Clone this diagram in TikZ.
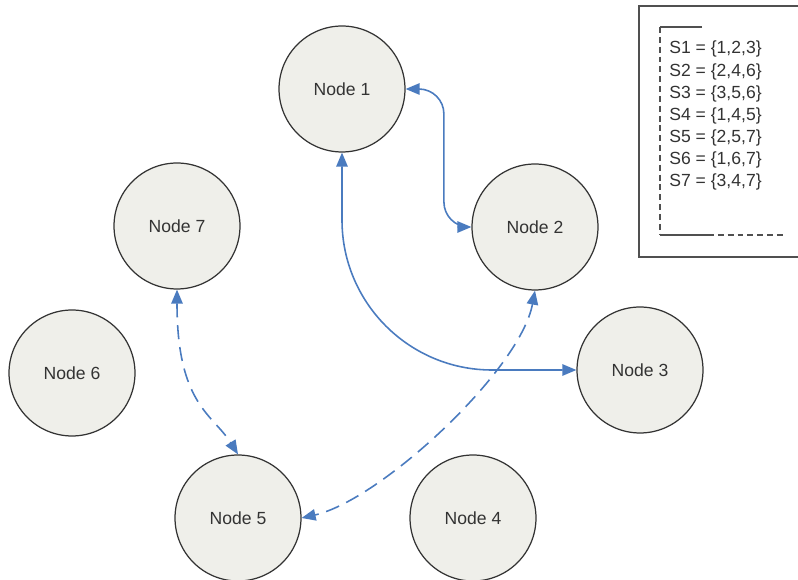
\documentclass[tikz,border=0pt]{standalone}
\usepackage{fontspec}
\setmainfont{Liberation Sans}
\usetikzlibrary{arrows.meta}
\definecolor{linkblue}{HTML}{4A7BBF}
\definecolor{nodefill}{HTML}{EFEFEA}
\definecolor{boxgray}{HTML}{505050}

\begin{document}
\begin{tikzpicture}[x=0.02cm,y=-0.02cm]
\tikzstyle{every node}=[font=\fontsize{10}{12}\selectfont,text=black!80]
\tikzstyle{setnode}=[draw=black!80,line width=0.7pt,fill=nodefill,shape=circle,minimum size=2.52cm,inner sep=0pt]
\tikzstyle{link}=[color=linkblue,line width=0.9pt,{Triangle[length=8pt,width=6.5pt]}-{Triangle[length=8pt,width=6.5pt]}]
\tikzstyle{dlink}=[link,dash pattern=on 8pt off 4.5pt]
\tikzstyle{legline}=[boxgray,line width=1.1pt]
\useasboundingbox (0,0) rectangle (798,580);

% the seven nodes
\node[setnode] (n1) at (342,89) {Node 1};
\node[setnode] (n2) at (535,227) {Node 2};
\node[setnode] (n3) at (640,370) {Node 3};
\node[setnode] (n4) at (473,518) {Node 4};
\node[setnode] (n5) at (238,518) {Node 5};
\node[setnode] (n6) at (72,373) {Node 6};
\node[setnode] (n7) at (177,226) {Node 7};

% links
\draw[link,rounded corners=0.5cm] (n1.east) -| ([xshift=-0.55cm]n2.west) -- (n2.west);
\draw[link,rounded corners=3cm] (n1.south) |- (n3.west);
\draw[dlink] (n7.south) .. controls +(0,115) and +(-25,-40) .. (n5.north);
\draw[dlink] (n2.south) .. controls +(-15,80) and +(79,-18) .. (n5.east);

% legend
\draw[boxgray,line width=1.3pt] (800,6) -- (639,6) -- (639,257) -- (800,257);
\draw[legline] (702,27) -- (660,27);
\draw[legline,dash pattern=on 3.4pt off 2.2pt] (660,27) -- (660,235);
\draw[legline] (660,235) -- (708,235);
\draw[legline,dash pattern=on 3.4pt off 2.2pt] (708,235) -- (783,235);
\foreach \i/\s in {1/{1,2,3},2/{2,4,6},3/{3,5,6},4/{1,4,5},5/{2,5,7},6/{1,6,7},7/{3,4,7}}
  \node[anchor=base west,inner sep=0pt] (s\i) at (669,{54+22.1*(\i-1)}) {S\i{} = \{\s\}};
\end{tikzpicture}
\end{document}
